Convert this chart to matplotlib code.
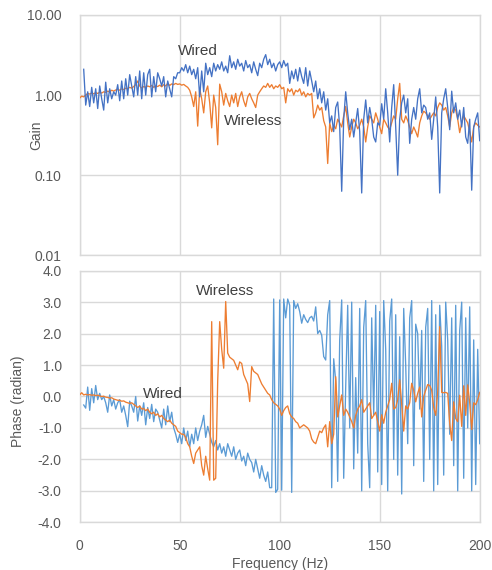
import numpy as np
import matplotlib
matplotlib.use("Agg")
import matplotlib.pyplot as plt
from matplotlib.ticker import FixedLocator, FuncFormatter, NullLocator

nan = np.nan

# Frequency bins (Hz)
freq = np.arange(0, 201)

wired_gain = [
    nan, nan, 2.1, 0.75, 1.1, 0.72, 1.25, 0.8, 1.2, 0.68,
    1.3, 0.9, 0.65, 1.45, 0.8, 1.2, 0.9, 1.1, 1.0, 1.35,
    0.85, 1.5, 0.9, 1.6, 1.0, 1.8, 1.3, 0.95, 1.7, 1.0,
    2.0, 0.9, 1.9, 1.0, 1.8, 2.1, 0.95, 1.7, 1.1, 1.9,
    1.6, 1.3, 1.7, 0.95, 1.5, 1.2, 0.95, 1.7, 1.6, 1.9,
    1.9, 2.2, 2.0, 2.4, 1.9, 2.3, 1.8, 2.1, 1.6, 2.2,
    0.95, 2.0, 1.1, 2.5, 1.8, 2.2, 1.7, 2.5, 2.0, 2.4,
    2.1, 2.6, 2.0, 2.3, 1.9, 3.1, 2.2, 2.6, 2.1, 2.8,
    2.3, 2.5, 2.0, 2.7, 2.2, 2.4, 1.9, 2.6, 2.1, 1.75,
    2.5, 2.2, 2.8, 3.2, 2.4, 2.8, 2.2, 2.5, 2.0, 2.4,
    2.6, 2.2, 2.7, 2.3, 2.5, 1.4, 2.0, 1.6, 2.1, 1.5,
    2.2, 1.7, 1.4, 2.2, 1.3, 2.0, 1.5, 1.1, 1.5, 0.9,
    1.2, 0.8, 1.1, 0.65, 0.9, 0.45, 0.55, 0.35, 0.7, 0.82,
    0.4, 0.063, 0.5, 1.1, 0.6, 0.37, 0.5, 0.3, 0.45, 0.68,
    0.35, 0.06, 0.5, 0.87, 0.45, 0.7, 0.5, 0.3, 0.26, 0.45,
    0.42, 0.78, 0.5, 1.2, 0.6, 0.26, 0.7, 1.35, 0.4, 0.1,
    0.5, 0.8, 1.0, 0.6, 0.9, 0.25, 0.5, 0.7, 0.5, 0.9,
    1.2, 0.6, 0.75, 0.7, 0.5, 0.6, 0.28, 0.5, 0.95, 0.4,
    0.06, 0.6, 0.9, 1.2, 0.7, 0.37, 1.12, 0.6, 0.8, 0.5,
    0.65, 0.4, 0.7, 0.3, 0.25, 0.5, 0.065, 0.4, 0.5, 0.6,
    0.27,
]

wireless_gain = [
    0.92, 0.97, 0.95, 1.0, 1.05, 1.03, 1.06, 1.04, 1.07, 1.05,
    1.08, 1.06, 1.1, 1.08, 1.12, 1.1, 1.15, 1.12, 1.16, 1.18,
    1.15, 1.2, 1.17, 1.22, 1.2, 1.25, 1.22, 1.28, 1.35, 1.5,
    1.3, 1.22, 1.28, 1.25, 1.3, 1.27, 1.32, 1.25, 1.3, 1.28,
    1.33, 1.27, 1.35, 1.3, 1.4, 1.32, 1.38, 1.35, 1.4, 1.36,
    1.38, 1.33, 1.36, 1.3, 1.25, 1.15, 0.95, 0.72, 1.1, 0.41,
    1.2, 0.9, 0.6, 1.1, 1.3, 0.8, 0.39, 1.0, 0.7, 0.24,
    1.37, 1.1, 0.75, 1.05, 0.85, 0.72, 1.0, 0.8, 1.05, 0.72,
    0.95, 1.1, 0.85, 0.72, 0.95, 1.05, 0.9, 0.8, 0.7, 1.0,
    1.1, 1.2, 1.3, 1.25, 1.4, 1.25, 1.35, 1.2, 1.3, 1.25,
    1.35, 1.2, 1.25, 0.8, 1.2, 1.1, 1.2, 1.0, 1.15, 1.1,
    1.2, 1.0, 1.1, 0.95, 1.05, 1.0, 1.05, 0.52, 0.6, 0.75,
    0.65, 0.7, 0.48, 0.4, 0.14, 0.45, 0.35, 0.42, 0.38, 0.5,
    0.45, 0.4, 0.55, 0.72, 0.45, 0.3, 0.4, 0.5, 0.45, 0.38,
    0.42, 0.5, 0.4, 0.26, 0.4, 0.55, 0.5, 0.45, 0.6, 0.5,
    0.4, 0.33, 0.5, 0.45, 0.4, 0.37, 0.45, 0.55, 0.5, 0.9,
    1.4, 0.5, 0.45, 0.55, 0.48, 0.4, 0.33, 0.4, 0.35, 0.3,
    0.45, 0.55, 0.63, 0.6, 0.55, 0.5, 0.55, 0.6, 0.55, 0.7,
    0.8, 0.75, 0.65, 0.7, 0.55, 0.4, 0.6, 0.7, 0.65, 0.5,
    0.34, 0.45, 0.55, 0.5, 0.45, 0.35, 0.26, 0.4, 0.45, 0.42,
    0.4,
]

wired_phase = [
    nan, nan, -0.27, -0.37, 0.3, -0.44, 0.25, -0.2, 0.35, -0.1,
    0.1, -0.1, 0.0, -0.2, -0.5, 0.05, -0.3, -0.1, -0.4, -0.2,
    -0.1, -0.5, -0.3, -0.6, -0.96, -0.15, -0.3, -0.5, 0.0, -0.78,
    -0.3, -0.6, -0.2, -0.9, -0.35, -0.7, -0.25, -0.8, -0.4, -0.5,
    -0.75, -1.0, -0.4, -0.9, -0.3, -0.8, -0.5, -1.0, -1.2, -1.46,
    -1.2, -1.5, -1.0, -1.4, -1.1, -1.6, -1.2, -1.5, -1.0, -1.4,
    -1.1, -0.9, -0.6, -1.3, -0.95, -1.2, -1.45, -1.6, -1.4, -1.7,
    -1.5, -1.8, -1.6, -1.9, -1.5, -1.7, -1.9, -1.6, -2.0, -1.8,
    -1.7, -2.05, -1.9, -2.2, -1.8, -2.0, -2.1, -2.4, -2.0, -2.3,
    -2.6, -2.2, -2.5, -2.7, -2.4, -2.9, -2.9, 3.1, -3.05, -2.95,
    3.07, -2.98, 3.1, 2.5, 3.1, 2.9, -3.05, 3.05, 2.8, 2.95,
    2.7, 2.33, 2.6, 2.45, 2.35, 2.5, 2.55, 2.4, 2.85, 2.0,
    2.1, 1.95, 1.27, 1.16, 2.6, 3.05, -2.9, 1.2, 0.5, -2.7,
    1.8, 3.07, -2.6, 0.3, 2.9, -1.0, 3.0, -2.3, 0.6, -1.8,
    2.8, -3.0, 2.2, 3.05, -1.5, -2.9, 2.5, -0.6, 2.9, -2.4,
    2.7, -2.8, 3.05, 1.5, -3.0, 2.4, 3.1, -2.0, 2.6, -2.5,
    1.9, -3.1, 2.8, 1.0, -1.5, 2.5, 3.05, -2.2, 2.3, 2.0,
    -0.4, 2.1, -2.7, 2.2, 2.8, -2.0, 3.05, -3.0, 2.6, -2.8,
    2.9, 1.6, -2.5, 3.0, 1.8, -1.2, 2.5, -2.2, 2.9, -3.0,
    2.1, 3.0, -2.6, 2.5, -1.0, 2.85, -3.0, 1.8, -2.8, 1.5,
    -1.5,
]

wireless_phase = [
    0.05, 0.12, 0.05, 0.07, 0.05, 0.06, 0.04, 0.05, 0.03, 0.04,
    0.02, 0.0, 0.01, -0.02, -0.03, -0.05, -0.04, -0.08, -0.1, -0.12,
    -0.12, -0.15, -0.14, -0.18, -0.2, -0.22, -0.2, -0.25, -0.3, -0.35,
    -0.3, -0.4, -0.38, -0.45, -0.4, -0.5, -0.55, -0.5, -0.6, -0.55,
    -0.65, -0.6, -0.7, -0.75, -0.8, -0.75, -0.85, -0.9, -0.95, -1.1,
    -1.15, -1.2, -1.2, -1.3, -1.5, -1.6, -1.9, -2.13, -1.8, -1.7,
    -1.6, -2.2, -2.5, -1.9, -2.3, -2.66, 2.38, -2.66, -2.6, 0.5,
    2.38, 1.5, 0.9, 3.02, 1.38, 1.25, 1.2, 1.15, 1.0, 0.85,
    1.1, 1.05, 0.7, 0.55, 0.4, -0.16, 0.95, 0.8, 0.75, 0.7,
    0.55, 0.4, 0.3, 0.2, 0.1, 0.05, -0.1, -0.2, -0.25, -0.3,
    -0.4, -0.6, -0.45, -0.35, -0.3, -0.55, -0.65, -0.7, -0.8, -0.85,
    -1.0, -0.95, -0.9, -0.95, -1.0, -1.1, -1.35, -1.45, -1.5, -1.3,
    -1.1, -1.15, -1.0, -0.9, -1.6, -0.8, -1.5, -1.2, 0.63, -0.65,
    -0.3, 0.05, -0.6, -0.4, -0.5, -0.65, -0.8, -1.0, -0.6, -0.4,
    -0.3, -0.1, -0.5, -0.4, -0.3, -0.2, -0.7, -0.6, -0.5, -0.8,
    -1.1, -0.58, -0.85, -0.5, -0.3, -0.1, 0.42, -0.4, -0.35, -0.1,
    0.53, -0.25, -1.1, -0.3, -0.4, -0.2, 0.42, 0.2, -0.17, 0.1,
    0.3, -0.65, 0.0, 0.2, 0.38, 0.35, 0.2, -0.35, -0.6, 0.15,
    2.22, 0.13, 0.12, 0.13, 0.1, -0.85, -1.4, -0.17, -0.7, -0.8,
    0.04, -0.95, 0.34, -0.6, 0.37, -0.2, -1.05, -0.2, -0.26, -0.1,
    0.13,
]

x_ticks = [0, 50, 100, 150, 200]
gain_ticks = [0.01, 0.1, 1, 10]
phase_ticks = [-4, -3, -2, -1, 0, 1, 2, 3, 4]

plt.rcParams['font.family'] = ['Liberation Sans', 'DejaVu Sans']

W, H = 492, 570
fig = plt.figure(figsize=(W / 100, H / 100), dpi=100)
ax1 = fig.add_axes([79.7 / W, 1 - 255.3 / H, 400 / W, 240.3 / H])
ax2 = fig.add_axes([79.7 / W, 1 - 522.3 / H, 400 / W, 251.6 / H])

grid_c = '#D9D9D9'
tick_c = '#595959'
blue_dark = '#4472C4'
blue_light = '#5B9BD5'
orange = '#ED7D31'

ax1.plot(freq, wireless_gain, color=orange, lw=0.95, zorder=3)
ax1.plot(freq, wired_gain, color=blue_dark, lw=0.95, zorder=4)
ax1.set_yscale('log')
ax1.set_ylim(0.01, 10)
ax1.set_xlim(0, 200)
ax1.yaxis.set_major_locator(FixedLocator(gain_ticks))
ax1.yaxis.set_minor_locator(NullLocator())
ax1.yaxis.set_major_formatter(FuncFormatter(lambda v, p: f"{v:.2f}"))
ax1.set_xticks(x_ticks)
ax1.tick_params(axis='x', labelbottom=False)

ax2.plot(freq, wireless_phase, color=orange, lw=0.95, zorder=4)
ax2.plot(freq, wired_phase, color=blue_light, lw=0.95, zorder=3)
ax2.set_ylim(-4, 4)
ax2.set_xlim(0, 200)
ax2.set_yticks(phase_ticks)
ax2.yaxis.set_major_formatter(FuncFormatter(lambda v, p: f"{v:.1f}"))
ax2.set_xticks(x_ticks)

for ax in (ax1, ax2):
    ax.grid(True, color=grid_c, lw=1.0, zorder=0)
    ax.set_axisbelow(True)
    for s in ax.spines.values():
        s.set_color(grid_c)
        s.set_linewidth(1.0)
    ax.tick_params(length=0, labelsize=10, labelcolor=tick_c)
    ax.tick_params(axis='y', pad=13)
    ax.tick_params(axis='x', pad=12)

# Axis titles
fig.text(36 / W, 1 - 135 / H, 'Gain', color=tick_c, fontsize=10,
         rotation=90, ha='center', va='center')
fig.text(18 / W, 1 - 401.7 / H, 'Phase (radian)', color=tick_c, fontsize=10,
         rotation=90, ha='center', va='center')
fig.text(280 / W, 1 - 557 / H, 'Frequency (Hz)', color=tick_c, fontsize=10,
         ha='center', va='top')

txt_c = '#404040'
ax1.text(58.9, 3.58, 'Wired', color=txt_c, fontsize=11, ha='center', va='center', zorder=6)
ax1.text(86.5, 0.477, 'Wireless', color=txt_c, fontsize=11, ha='center', va='center', zorder=6)
ax2.text(72.7, 3.36, 'Wireless', color=txt_c, fontsize=11, ha='center', va='center', zorder=6)
ax2.text(41.7, 0.08, 'Wired', color=txt_c, fontsize=11, ha='center', va='center', zorder=6)

fig.savefig('out.png', dpi=100)
